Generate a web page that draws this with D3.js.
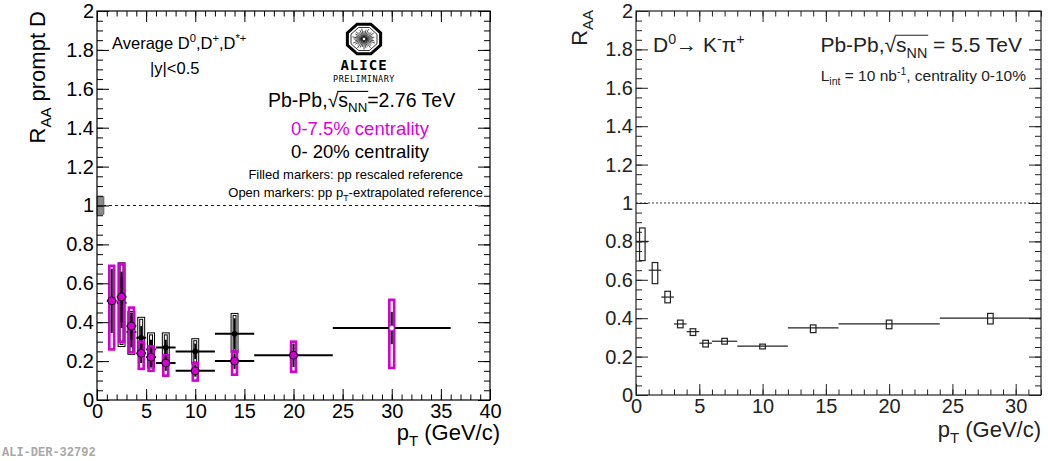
<!DOCTYPE html>
<html><head><meta charset="utf-8">
<script src="https://cdn.jsdelivr.net/npm/d3@7"></script>
<style>body{margin:0;background:#fff}svg{font-family:"Liberation Sans",Arial,Helvetica,sans-serif}</style>
</head><body><svg id="c" width="1048" height="461"></svg>
<script>
// ---------- DATA ----------
// Left panel: Pb-Pb 2.76 TeV, 0-7.5% centrality (magenta)
const magPt   = [1.5, 2.5, 3.5, 4.5, 5.5, 7, 10, 14, 20, 30];
const magLo   = [1, 2, 3, 4, 5, 6, 8, 12, 16, 24];
const magHi   = [2, 3, 4, 5, 6, 8, 12, 16, 24, 36];
const magVal  = [0.51, 0.53, 0.38, 0.24, 0.22, 0.19, 0.15, 0.20, 0.23, 0.37];
const magStat = [0.165, 0.13, 0.07, 0.05, 0.05, 0.04, 0.03, 0.04, 0.06, 0.083];
const magSysLo= [0.26, 0.30, 0.245, 0.16, 0.15, 0.125, 0.10, 0.13, 0.145, 0.165];
const magSysHi= [0.69, 0.70, 0.475, 0.30, 0.275, 0.23, 0.19, 0.25, 0.30, 0.515];
const magOpen = [false, false, false, false, false, false, false, false, false, true];
// Left panel: 0-20% centrality (black)
const blkPt   = [2.5, 3.5, 4.5, 5.5, 7, 10, 14];
const blkLo   = [2, 3, 4, 5, 6, 8, 12];
const blkHi   = [3, 4, 5, 6, 8, 12, 16];
const blkVal  = [0.50, 0.35, 0.32, 0.26, 0.27, 0.25, 0.34];
const blkStat = [0.13, 0.08, 0.06, 0.05, 0.04, 0.04, 0.08];
const blkSysLo= [0.28, 0.24, 0.25, 0.17, 0.20, 0.19, 0.25];
const blkSysHi= [0.70, 0.45, 0.42, 0.34, 0.34, 0.31, 0.44];
// Right panel: D0 -> K pi, Pb-Pb 5.5 TeV projection
const rPt   = [0.5, 1.5, 2.5, 3.5, 4.5, 5.5, 7, 10, 14, 20, 28];
const rLo   = [0, 1, 2, 3, 4, 5, 6, 8, 12, 16, 24];
const rHi   = [1, 2, 3, 4, 5, 6, 8, 12, 16, 24, 32];
const rVal  = [0.80, 0.65, 0.51, 0.37, 0.33, 0.27, 0.28, 0.255, 0.35, 0.37, 0.40];
const rSysLo= [0.70, 0.58, 0.48, 0.35, 0.31, 0.25, 0.265, 0.24, 0.325, 0.345, 0.37];
const rSysHi= [0.87, 0.69, 0.54, 0.39, 0.345, 0.285, 0.295, 0.265, 0.365, 0.39, 0.425];
// Tick labels
const xTicksL = [0, 5, 10, 15, 20, 25, 30, 35, 40];
const xTicksR = [0, 5, 10, 15, 20, 25, 30];
const yTicks  = [0, 0.2, 0.4, 0.6, 0.8, 1, 1.2, 1.4, 1.6, 1.8, 2];
const normUnc = 0.045;

// ---------- HELPERS ----------
const svg = d3.select("#c");
const fmt = d => String(+d.toFixed(1));

function rich(parent, x, y, segs, o) {
  const size = o.size, color = o.color || "#000";
  const t = parent.append("text").attr("font-size", size).attr("fill", color)
    .attr("text-anchor", o.anchor || "start");
  if (o.rotate) t.attr("transform", `translate(${x},${y}) rotate(${o.rotate})`);
  else t.attr("x", x).attr("y", y);
  let cur = 0, idx = 0; const over = [];
  segs.forEach(s => {
    const target = s.k === "sub" ? size * 0.28 : s.k === "sup" ? -size * 0.4 : 0;
    const ts = t.append("tspan").text(s.t).attr("dy", target - cur);
    if (s.k) ts.attr("font-size", size * 0.68);
    if (s.c) ts.attr("fill", s.c);
    if (s.o) over.push([idx, idx + s.t.length - 1]);
    idx += s.t.length; cur = target;
  });
  if (over.length) {
    const n = t.node();
    const a = n.getStartPositionOfChar(over[0][0]).x - 1;
    const b = n.getEndPositionOfChar(over[over.length - 1][1]).x + 1;
    const yy = y - size * 0.80;
    parent.append("line").attr("x1", a).attr("x2", b).attr("y1", yy).attr("y2", yy)
      .attr("stroke", color).attr("stroke-width", 1.1);
  }
  return t;
}

function axes(g, x, y, xMaj, yMaj, col, xTickL, yTickL) {
  const [xa, xb] = x.range(), [ya, yb] = y.range();
  const xMin = d3.range(x.domain()[0], x.domain()[1] + 0.001, 1);
  const yMin = d3.range(0, 2.001, 0.05);
  const style = s => { s.select(".domain").remove(); s.selectAll("line").attr("stroke", col);
    s.selectAll("text").attr("fill", col).attr("font-size", 20).attr("font-family", '"Liberation Sans",Arial,sans-serif'); };
  g.append("g").attr("transform", `translate(0,${ya})`)
    .call(d3.axisBottom(x).tickValues(xMin).tickSize(-xTickL / 2).tickFormat("")).call(style);
  g.append("g").attr("transform", `translate(0,${ya})`)
    .call(d3.axisBottom(x).tickValues(xMaj).tickSize(-xTickL).tickPadding(4).tickFormat(d => d)).call(style);
  g.append("g").attr("transform", `translate(0,${yb})`)
    .call(d3.axisTop(x).tickValues(xMin).tickSize(-xTickL / 2).tickFormat("")).call(style);
  g.append("g").attr("transform", `translate(0,${yb})`)
    .call(d3.axisTop(x).tickValues(xMaj).tickSize(-xTickL).tickFormat("")).call(style);
  g.append("g").attr("transform", `translate(${xa},0)`)
    .call(d3.axisLeft(y).tickValues(yMin).tickSize(-yTickL / 2).tickFormat("")).call(style);
  g.append("g").attr("transform", `translate(${xa},0)`)
    .call(d3.axisLeft(y).tickValues(yMaj).tickSize(-yTickL).tickPadding(3).tickFormat(fmt)).call(style);
  g.append("g").attr("transform", `translate(${xb},0)`)
    .call(d3.axisRight(y).tickValues(yMin).tickSize(-yTickL / 2).tickFormat("")).call(style);
  g.append("g").attr("transform", `translate(${xb},0)`)
    .call(d3.axisRight(y).tickValues(yMaj).tickSize(-yTickL).tickFormat("")).call(style);
  g.append("rect").attr("x", xa).attr("y", yb).attr("width", xb - xa).attr("height", ya - yb)
    .attr("fill", "none").attr("stroke", col).attr("stroke-width", 1.2);
}

// ---------- LEFT PANEL ----------
const xL = d3.scaleLinear().domain([0, 40]).range([97, 490]);
const yL = d3.scaleLinear().domain([0, 2]).range([400, 11]);
const gL = svg.append("g");

gL.append("line").attr("x1", xL(0)).attr("x2", xL(40)).attr("y1", yL(1)).attr("y2", yL(1))
  .attr("stroke", "#000").attr("stroke-width", 0.9).attr("stroke-dasharray", "3,3");
gL.append("rect").attr("x", xL(0)).attr("width", xL(0.7) - xL(0))
  .attr("y", yL(1 + normUnc)).attr("height", yL(1 - normUnc) - yL(1 + normUnc))
  .attr("fill", "#8a8a8a").attr("stroke", "#555").attr("stroke-width", 0.8);

const bw = 0.25;
blkPt.forEach((p, i) => {
  const r = gL.append("g");
  const bx = xL(p - bw), bwpx = xL(p + bw) - xL(p - bw);
  r.append("rect").attr("x", bx).attr("width", bwpx).attr("y", yL(blkSysHi[i]))
    .attr("height", yL(blkSysLo[i]) - yL(blkSysHi[i])).attr("fill", "none").attr("stroke", "#000").attr("stroke-width", 3);
  r.append("rect").attr("x", bx).attr("width", bwpx).attr("y", yL(blkSysHi[i]))
    .attr("height", yL(blkSysLo[i]) - yL(blkSysHi[i])).attr("fill", "none").attr("stroke", "#fff").attr("stroke-width", 1);
  r.append("line").attr("x1", xL(blkLo[i])).attr("x2", xL(blkHi[i])).attr("y1", yL(blkVal[i])).attr("y2", yL(blkVal[i]))
    .attr("stroke", "#000").attr("stroke-width", 2);
  r.append("line").attr("x1", xL(p)).attr("x2", xL(p)).attr("y1", yL(blkVal[i] - blkStat[i])).attr("y2", yL(blkVal[i] + blkStat[i]))
    .attr("stroke", "#000").attr("stroke-width", 2);
  r.append("circle").attr("cx", xL(p)).attr("cy", yL(blkVal[i])).attr("r", 2.8).attr("fill", "#000");
});
const MAG = "#d200d2";
magPt.forEach((p, i) => {
  const r = gL.append("g");
  const bx = xL(p - bw), bwpx = xL(p + bw) - xL(p - bw);
  r.append("rect").attr("x", bx).attr("width", bwpx).attr("y", yL(magSysHi[i]))
    .attr("height", yL(magSysLo[i]) - yL(magSysHi[i])).attr("fill", "none").attr("stroke", MAG).attr("stroke-width", 2.6);
  r.append("line").attr("x1", xL(magLo[i])).attr("x2", xL(magHi[i])).attr("y1", yL(magVal[i])).attr("y2", yL(magVal[i]))
    .attr("stroke", "#000").attr("stroke-width", 2);
  r.append("line").attr("x1", xL(p)).attr("x2", xL(p)).attr("y1", yL(magVal[i] - magStat[i])).attr("y2", yL(magVal[i] + magStat[i]))
    .attr("stroke", "#000").attr("stroke-width", 2);
  if (magOpen[i]) r.append("circle").attr("cx", xL(p)).attr("cy", yL(magVal[i])).attr("r", 2.6).attr("fill", "#fff").attr("stroke", MAG).attr("stroke-width", 0.8);
  else r.append("circle").attr("cx", xL(p)).attr("cy", yL(magVal[i])).attr("r", 4).attr("fill", MAG).attr("stroke", "#000").attr("stroke-width", 0.9);
});

axes(gL, xL, yL, xTicksL, yTicks, "#000", 11, 12);

// left texts
rich(gL, 112, 49, [{t: "Average D"}, {t: "0", k: "sup"}, {t: ",D"}, {t: "+", k: "sup"}, {t: ",D"}, {t: "*+", k: "sup"}], {size: 16.5});
rich(gL, 150, 74, [{t: "|y|<0.5"}], {size: 16.5});
rich(gL, 268, 107, [{t: "Pb-Pb,"}, {t: "√"}, {t: "s", o: true}, {t: "NN", k: "sub", o: true}, {t: "=2.76 TeV"}], {size: 19.5});
rich(gL, 360, 134.5, [{t: "0-7.5% centrality"}], {size: 18.5, anchor: "middle", color: "#dd00dd"});
rich(gL, 360, 158, [{t: "0- 20% centrality"}], {size: 18.5, anchor: "middle"});
rich(gL, 463, 179, [{t: "Filled markers: pp rescaled reference"}], {size: 13, anchor: "end"});
rich(gL, 483, 197, [{t: "Open markers: pp p"}, {t: "T", k: "sub"}, {t: "-extrapolated reference"}], {size: 13, anchor: "end"});
rich(gL, 45, 11, [{t: "R"}, {t: "AA", k: "sub"}, {t: " prompt D"}], {size: 22, anchor: "end", rotate: -90});
rich(gL, 500, 440, [{t: "p"}, {t: "T", k: "sub"}, {t: " (GeV/c)"}], {size: 22, anchor: "end"});
svg.append("text").attr("x", 2).attr("y", 456).attr("font-size", 12).attr("font-weight", "bold")
  .attr("font-family", '"Liberation Mono","DejaVu Sans Mono",monospace').attr("fill", "#a8a8a8").text("ALI-DER-32792");

// ALICE logo (decorative)
const logo = gL.append("g").attr("transform", "translate(364,39)");
const oct = d3.range(8).map(k => { const a = Math.PI / 8 + k * Math.PI / 4; return [18 * Math.cos(a), 16 * Math.sin(a)]; });
logo.append("path").attr("d", "M" + oct.join("L") + "Z").attr("fill", "none").attr("stroke", "#000").attr("stroke-width", 3);
const oct2 = oct.map(([a, b]) => [a * 0.78, b * 0.78]);
logo.append("path").attr("d", "M" + oct2.join("L") + "Z").attr("fill", "none").attr("stroke", "#000").attr("stroke-width", 0.8);
d3.range(32).forEach(k => { const a = k * 2 * Math.PI / 32, r2 = 9 + (k % 3) * 1.4;
  logo.append("line").attr("x1", 1.5 * Math.cos(a)).attr("y1", 1.5 * Math.sin(a)).attr("x2", r2 * Math.cos(a)).attr("y2", r2 * 0.9 * Math.sin(a))
    .attr("stroke", "#000").attr("stroke-width", 0.7); });
gL.append("text").attr("x", 364).attr("y", 70).attr("text-anchor", "middle").attr("font-size", 14).attr("font-weight", "bold")
  .attr("font-family", '"DejaVu Sans Mono","Liberation Mono",monospace').attr("letter-spacing", 1).text("ALICE");
gL.append("text").attr("x", 364).attr("y", 82).attr("text-anchor", "middle").attr("font-size", 8.5)
  .attr("font-family", '"DejaVu Sans Mono","Liberation Mono",monospace').attr("letter-spacing", 0.5).text("PRELIMINARY");

// ---------- RIGHT PANEL ----------
const GR = "#222";
const xR = d3.scaleLinear().domain([0, 32]).range([636, 1041]);
const yR = d3.scaleLinear().domain([0, 2]).range([395, 11]);
const gR = svg.append("g");
gR.append("line").attr("x1", xR(0)).attr("x2", xR(32)).attr("y1", yR(1)).attr("y2", yR(1))
  .attr("stroke", GR).attr("stroke-width", 0.9).attr("stroke-dasharray", "2,2");
const rbw = 0.22;
rPt.forEach((p, i) => {
  gR.append("rect").attr("x", xR(p - rbw)).attr("width", xR(p + rbw) - xR(p - rbw)).attr("y", yR(rSysHi[i]))
    .attr("height", yR(rSysLo[i]) - yR(rSysHi[i])).attr("fill", "none").attr("stroke", GR).attr("stroke-width", 1.2);
  gR.append("line").attr("x1", xR(rLo[i])).attr("x2", xR(rHi[i])).attr("y1", yR(rVal[i])).attr("y2", yR(rVal[i]))
    .attr("stroke", GR).attr("stroke-width", 1.2);
});
axes(gR, xR, yR, xTicksR, yTicks, GR, 11, 12);
rich(gR, 653, 52, [{t: "D"}, {t: "0", k: "sup"}, {t: "→ K"}, {t: "-", k: "sup"}, {t: "π"}, {t: "+", k: "sup"}], {size: 21, color: GR});
rich(gR, 1022, 52, [{t: "Pb-Pb,"}, {t: "√"}, {t: "s", o: true}, {t: "NN", k: "sub", o: true}, {t: " = 5.5 TeV"}], {size: 21, anchor: "end", color: GR});
rich(gR, 1026, 81, [{t: "L"}, {t: "int", k: "sub"}, {t: " = 10 nb"}, {t: "-1", k: "sup"}, {t: ", centrality 0-10%"}], {size: 15.5, anchor: "end", color: GR});
rich(gR, 587, 10, [{t: "R"}, {t: "AA", k: "sub"}], {size: 22, anchor: "end", rotate: -90, color: GR});
rich(gR, 1041, 437, [{t: "p"}, {t: "T", k: "sub"}, {t: " (GeV/c)"}], {size: 22, anchor: "end", color: GR});
</script></body></html>
